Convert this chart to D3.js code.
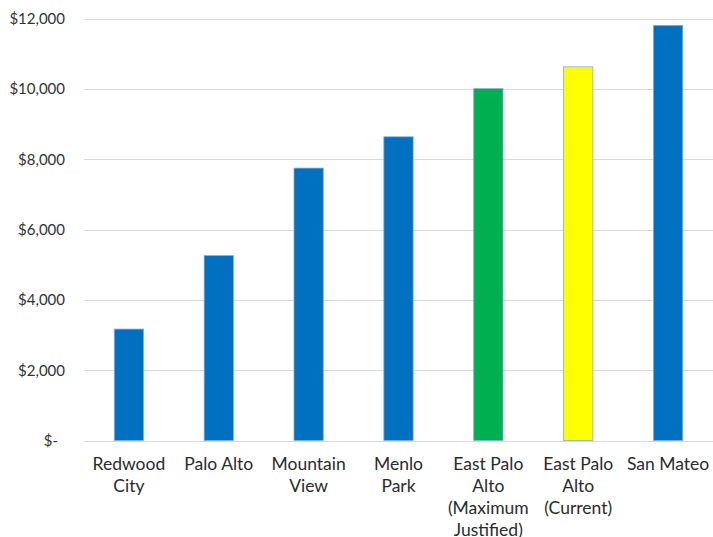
<!DOCTYPE html>
<html><head><meta charset="utf-8">
<script src="https://cdn.jsdelivr.net/npm/d3@7"></script>
<style>body{margin:0;background:#fff}svg{display:block}text{font-family:Lato,"Open Sans",sans-serif}</style>
</head><body>
<svg id="c" width="713" height="537"></svg>
<script>
const categories = [["Redwood","City"],["Palo Alto"],["Mountain","View"],["Menlo","Park"],["East Palo","Alto","(Maximum","Justified)"],["East Palo","Alto","(Current)"],["San Mateo"]];
const values = [3170, 5260, 7750, 8640, 10010, 10630, 11810];
const colors = ["#0070C0","#0070C0","#0070C0","#0070C0","#00B050","#FFFF00","#0070C0"];
const yTicks = [0, 2000, 4000, 6000, 8000, 10000, 12000];

const svg = d3.select("#c");
const keys = categories.map((d,i)=>i);
const x = d3.scaleBand().domain(keys).range([84, 713]).paddingInner(0.674).paddingOuter(0.337);
const y = d3.scaleLinear().domain([0, 12000]).range([440.5, 18.7]);

// grid
svg.append("g").selectAll("line").data(yTicks).join("line")
  .attr("x1", 84).attr("x2", 713)
  .attr("y1", d=>Math.round(y(d))+0.5).attr("y2", d=>Math.round(y(d))+0.5)
  .attr("stroke", "#d9d9d9").attr("stroke-width", 1);

// y axis
const fmt = d3.format(",");
const ya = svg.append("g").attr("transform","translate(84,0)")
  .call(d3.axisLeft(y).tickValues(yTicks).tickSize(0).tickPadding(19)
    .tickFormat(d => d === 0 ? "$-" : "$" + fmt(d)));
ya.select(".domain").remove();
ya.selectAll("text").attr("font-size", 15).attr("fill", "#333").attr("font-family","Lato");
ya.selectAll(".tick").filter(d=>d===0).select("text").attr("dx", -7);

// bars
svg.append("g").selectAll("rect").data(values).join("rect")
  .attr("x", (d,i)=>x(i)).attr("width", x.bandwidth())
  .attr("y", d=>y(d)).attr("height", d=>y(0)-y(d))
  .attr("fill", (d,i)=>colors[i]).attr("stroke", "#7FAEDB").attr("stroke-width", 0.8);

// x labels
const xl = svg.append("g");
categories.forEach((lines,i)=>{
  const t = xl.append("text").attr("text-anchor","middle").attr("font-size",17.5).attr("fill","#2b2b2b");
  lines.forEach((s,j)=>{
    t.append("tspan").attr("x", x(i)+x.bandwidth()/2).attr("y", 470 + j*22).text(s);
  });
});
</script>
</body></html>
